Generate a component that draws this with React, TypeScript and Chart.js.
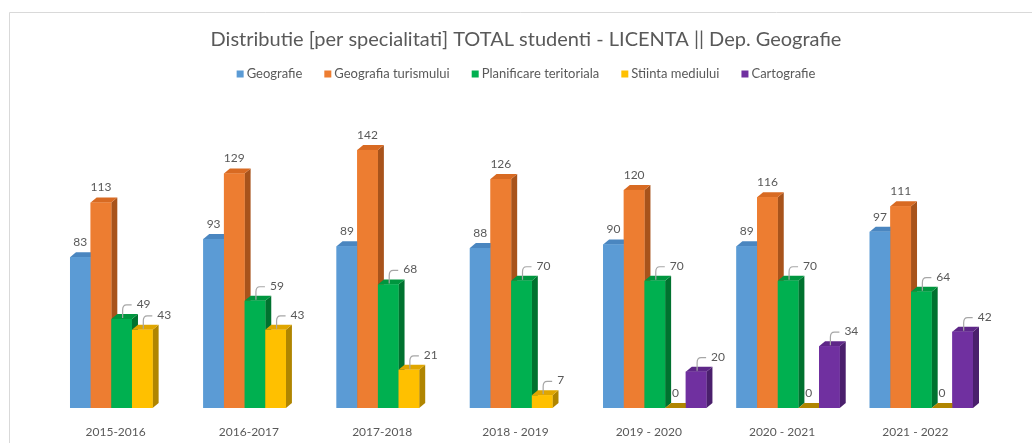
import React, { useEffect, useRef } from "react";
import Chart from "chart.js/auto";

const categories = ["2015-2016", "2016-2017", "2017-2018", "2018 - 2019", "2019 - 2020", "2020 - 2021", "2021 - 2022"];
const seriesNames = ["Geografie", "Geografia turismului", "Planificare teritoriala", "Stiinta mediului", "Cartografie"];
const geografie = [83, 93, 89, 88, 90, 89, 97];
const geografiaTurismului = [113, 129, 142, 126, 120, 116, 111];
const planificareTeritoriala = [49, 59, 68, 70, 70, 70, 64];
const stiintaMediului = [43, 43, 21, 7, 0, 0, 0];
const cartografie = [null, null, null, null, 20, 34, 42];

const titleText = "Distributie [per specialitati] TOTAL studenti - LICENTA || Dep. Geografie";

const frontColors = ["#5B9BD5", "#ED7D31", "#00B050", "#FFC000", "#7030A0"];
const topColors = ["#4A86C0", "#D86A22", "#00963F", "#E0A600", "#5E2788"];
const sideColors = ["#3E6E9E", "#A8531B", "#00722F", "#B08500", "#4A1F6C"];

const FONT = "Lato, 'Open Sans', sans-serif";
const TEXT_COLOR = "#595959";
const DX = 6;
const DY = 5;

const frameAndTitle = {
  id: "frameAndTitle",
  beforeDraw(chart: any) {
    const ctx = chart.ctx;
    ctx.save();
    ctx.fillStyle = "#ffffff";
    ctx.fillRect(0, 0, chart.width, chart.height);
    ctx.strokeStyle = "#d9d9d9";
    ctx.lineWidth = 1;
    ctx.beginPath();
    ctx.moveTo(9.5, chart.height);
    ctx.lineTo(9.5, 12.5);
    ctx.lineTo(chart.width, 12.5);
    ctx.stroke();
    ctx.restore();
  },
  afterDraw(chart: any) {
    const ctx = chart.ctx;
    const cx = 526;
    ctx.save();
    ctx.fillStyle = TEXT_COLOR;
    ctx.font = `20px ${FONT}`;
    ctx.textAlign = "center";
    ctx.textBaseline = "middle";
    ctx.fillText(titleText, cx, 40);
    // legend
    ctx.font = `13px ${FONT}`;
    const box = 7;
    const gapBoxText = 3;
    const gapItems = 22;
    const widths = seriesNames.map((s) => ctx.measureText(s).width);
    const total = widths.reduce((a, w) => a + box + gapBoxText + w, 0) + gapItems * (seriesNames.length - 1);
    let x = cx - total / 2;
    const y = 74;
    ctx.textAlign = "left";
    seriesNames.forEach((s, i) => {
      ctx.fillStyle = frontColors[i];
      ctx.fillRect(x, y - box / 2, box, box);
      x += box + gapBoxText;
      ctx.fillStyle = TEXT_COLOR;
      ctx.fillText(s, x, y);
      x += widths[i] + gapItems;
    });
    ctx.restore();
  },
};

const bars3d = {
  id: "bars3d",
  afterDatasetsDraw(chart: any) {
    const ctx = chart.ctx;
    const n = chart.data.labels.length;
    const nd = chart.data.datasets.length;
    ctx.save();
    for (let j = 0; j < n; j++) {
      for (let i = 0; i < nd; i++) {
        const v = chart.data.datasets[i].data[j];
        if (v === null || v === undefined) continue;
        const el = chart.getDatasetMeta(i).data[j];
        const { x, y, base, width } = el.getProps(["x", "y", "base", "width"], true);
        const l = x - width / 2;
        const r = x + width / 2;
        // side face
        ctx.fillStyle = sideColors[i];
        ctx.beginPath();
        ctx.moveTo(r, y);
        ctx.lineTo(r + DX, y - DY);
        ctx.lineTo(r + DX, base - DY);
        ctx.lineTo(r, base);
        ctx.closePath();
        ctx.fill();
        // top face
        ctx.fillStyle = v === 0 ? sideColors[i] : topColors[i];
        ctx.beginPath();
        ctx.moveTo(l, y);
        ctx.lineTo(l + DX, y - DY);
        ctx.lineTo(r + DX, y - DY);
        ctx.lineTo(r, y);
        ctx.closePath();
        ctx.fill();
        // front face
        ctx.fillStyle = frontColors[i];
        ctx.fillRect(l, y, width, base - y);
      }
    }
    // labels
    ctx.font = `12px ${FONT}`;
    ctx.fillStyle = TEXT_COLOR;
    ctx.textBaseline = "middle";
    ctx.strokeStyle = "#a6a6a6";
    ctx.lineWidth = 1.2;
    for (let i = 0; i < nd; i++) {
      const meta = chart.getDatasetMeta(i);
      for (let j = 0; j < n; j++) {
        const v = chart.data.datasets[i].data[j];
        if (v === null || v === undefined) continue;
        const { x, y } = meta.data[j].getProps(["x", "y"], true);
        if (i < 2 || v === 0) {
          ctx.textAlign = "center";
          ctx.fillText(String(v), x, y - 15);
        } else {
          ctx.beginPath();
          ctx.moveTo(x + 1, y - 1);
          ctx.lineTo(x + 1, y - 9);
          ctx.quadraticCurveTo(x + 1, y - 14, x + 5, y - 14);
          ctx.lineTo(x + 10, y - 14);
          ctx.stroke();
          ctx.textAlign = "left";
          ctx.fillText(String(v), x + 15, y - 15);
        }
      }
    }
    ctx.restore();
  },
};

export default function App() {
  const canvasRef = useRef<HTMLCanvasElement | null>(null);

  useEffect(() => {
    const canvas = canvasRef.current;
    if (!canvas) return;
    const datasetsData = [geografie, geografiaTurismului, planificareTeritoriala, stiintaMediului, cartografie];
    const chart = new Chart(canvas, {
      type: "bar",
      data: {
        labels: categories,
        datasets: datasetsData.map((d, i) => ({
          label: seriesNames[i],
          data: d as any,
          backgroundColor: frontColors[i],
          borderWidth: 0,
          categoryPercentage: 0.775,
          barPercentage: 1,
        })),
      },
      options: {
        responsive: false,
        animation: false,
        devicePixelRatio: 1,
        layout: { padding: { left: 55, right: 44, top: 99, bottom: 0 } },
        plugins: {
          legend: { display: false },
          title: { display: false },
          tooltip: { enabled: false },
        },
        scales: {
          x: {
            grid: { display: false, drawTicks: false },
            border: { display: false },
            ticks: {
              color: TEXT_COLOR,
              font: { family: FONT, size: 12 },
              padding: 17,
              labelOffset: -6,
              maxRotation: 0,
              autoSkip: false,
            },
            afterFit: (s: any) => {
              s.height = 35;
            },
          },
          y: { display: false, min: 0, max: 170 },
        },
      },
      plugins: [frameAndTitle, bars3d],
    });
    return () => chart.destroy();
  }, []);

  return (
    <div style={{ position: "fixed", left: 0, top: 0, width: 1032, height: 443, background: "#fff" }}>
      <canvas ref={canvasRef} width={1032} height={443} style={{ display: "block" }} />
    </div>
  );
}
